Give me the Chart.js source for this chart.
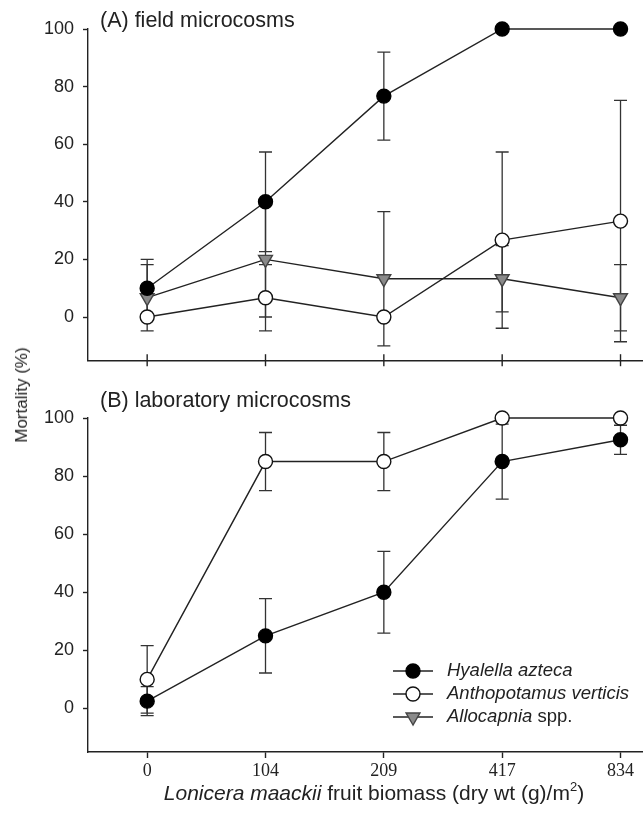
<!DOCTYPE html>
<html>
<head>
<meta charset="utf-8">
<script src="https://cdn.jsdelivr.net/npm/chart.js@4.4.1/dist/chart.umd.min.js"></script>
<style>
  body { margin: 0; background: #fff; }
  #wrap { position: relative; width: 643px; height: 822px; overflow: hidden;
          font-family: "Liberation Sans", Arial, sans-serif; color: #222; }
  canvas { position: absolute; left: 0; }
  #cA { top: 0; }
  #cB { top: 380px; }
  #ylab { position: absolute; left: 22px; top: 395px; font-size: 17px; white-space: nowrap;
          transform: translate(-50%, -50%) rotate(-90deg); }
  #xlab { position: absolute; left: 0; width: 748px; top: 782px; text-align: center;
          font-size: 21px; line-height: 21px; white-space: nowrap; }
  #xlab sup { font-size: 13px; vertical-align: 9px; line-height: 0; }
</style>
</head>
<body>
<div id="wrap">
  <canvas id="cA" width="643" height="380"></canvas>
  <canvas id="cB" width="643" height="442"></canvas>
  <div id="ylab">Mortality (%)</div>
  <div id="xlab"><i>Lonicera maackii</i> fruit biomass (dry wt (g)/m<sup>2</sup>)</div>
</div>
<script>
const biomass = ['0', '104', '209', '417', '834'];
const yTicks = [0, 20, 40, 60, 80, 100];
const species = ['Hyalella azteca', 'Anthopotamus verticis', 'Allocapnia spp.'];

// (A) field microcosms, mean and error
const fieldHyalella = [10, 40, 76.7, 100, 100];
const fieldHyalellaErr = [10, 17.3, 15.3, 0, 0];
const fieldAntho = [0, 6.7, 0, 26.7, 33.3];
const fieldAnthoErr = [0, 11.5, 0, 30.6, 41.9];
const fieldAllo = [6.7, 20, 13.3, 13.3, 6.7];
const fieldAlloErr = [11.5, 20, 23.3, 11.5, 11.5];

// (B) laboratory microcosms
const labHyalella = [2.5, 25, 40, 85, 92.5];
const labHyalellaErr = [5, 12.8, 14.1, 12.9, 5];
const labAntho = [10, 85, 85, 100, 100];
const labAnthoErr = [11.6, 10, 10, 0, 0];

const SANS = '"Liberation Sans", Arial, sans-serif';
const SERIF = '"Liberation Serif", "Times New Roman", serif';
const INK = '#222';

const styles = [
  { pointStyle: 'circle', radius: 7, rotation: 0, fill: '#000', stroke: '#000' },
  { pointStyle: 'circle', radius: 7, rotation: 0, fill: '#fff', stroke: '#111' },
  { pointStyle: 'triangle', radius: 8, rotation: 180, fill: '#8a8a8a', stroke: '#444' }
];

function makeDataset(k, vals, errs) {
  const s = styles[k];
  return {
    label: species[k],
    data: vals.map((v, i) => ({ x: i, y: v })),
    errors: errs,
    borderColor: INK,
    borderWidth: 1.4,
    pointStyle: s.pointStyle,
    pointRadius: s.radius,
    pointHoverRadius: s.radius,
    pointRotation: s.rotation,
    pointBackgroundColor: s.fill,
    pointBorderColor: s.stroke,
    pointBorderWidth: 1.4,
    tension: 0,
    clip: false
  };
}

// vertical error bars with caps, drawn under the markers
const errorBars = {
  id: 'errorBars',
  beforeDatasetsDraw(chart) {
    const ctx = chart.ctx, xs = chart.scales.x, ys = chart.scales.y;
    ctx.save();
    ctx.strokeStyle = '#333';
    ctx.lineWidth = 1.3;
    chart.data.datasets.forEach(ds => {
      ds.data.forEach((p, i) => {
        const e = ds.errors[i];
        if (!e) return;
        const x = xs.getPixelForValue(p.x);
        const lo = ys.getPixelForValue(p.y - e), hi = ys.getPixelForValue(p.y + e);
        ctx.beginPath();
        ctx.moveTo(x, lo); ctx.lineTo(x, hi);
        ctx.moveTo(x - 6.5, lo); ctx.lineTo(x + 6.5, lo);
        ctx.moveTo(x - 6.5, hi); ctx.lineTo(x + 6.5, hi);
        ctx.stroke();
      });
    });
    ctx.restore();
  }
};

const panelTitle = {
  id: 'panelTitle',
  afterDraw(chart, args, opts) {
    const ctx = chart.ctx;
    ctx.save();
    ctx.font = '21.5px ' + SANS;
    ctx.fillStyle = INK;
    ctx.textBaseline = 'alphabetic';
    ctx.fillText(opts.text, chart.chartArea.left + 12, chart.chartArea.top + opts.dy);
    ctx.restore();
  }
};

// top panel: tick marks cross the x axis line
const crossTicks = {
  id: 'crossTicks',
  afterDraw(chart, args, opts) {
    if (!opts.on) return;
    const ctx = chart.ctx, xs = chart.scales.x;
    ctx.save();
    ctx.strokeStyle = INK;
    ctx.lineWidth = 1.4;
    xs.ticks.forEach(t => {
      const x = xs.getPixelForValue(t.value);
      ctx.beginPath();
      ctx.moveTo(x, xs.top - 6);
      ctx.lineTo(x, xs.top + 6);
      ctx.stroke();
    });
    ctx.restore();
  }
};

function drawMarker(ctx, s, x, y) {
  ctx.beginPath();
  if (s.pointStyle === 'circle') {
    ctx.arc(x, y, s.radius, 0, Math.PI * 2);
  } else {
    const r = s.radius;
    ctx.moveTo(x, y + r);
    ctx.lineTo(x - r * 0.866, y - r / 2);
    ctx.lineTo(x + r * 0.866, y - r / 2);
    ctx.closePath();
  }
  ctx.fillStyle = s.fill;
  ctx.fill();
  ctx.strokeStyle = s.stroke;
  ctx.lineWidth = 1.4;
  ctx.stroke();
}

const legendBox = {
  id: 'legendBox',
  afterDraw(chart, args, opts) {
    if (!opts.on) return;
    const ctx = chart.ctx;
    ctx.save();
    species.forEach((name, k) => {
      const y = opts.top + k * 23;
      const x0 = opts.left;
      ctx.strokeStyle = INK;
      ctx.lineWidth = 1.4;
      ctx.beginPath();
      ctx.moveTo(x0, y);
      ctx.lineTo(x0 + 40, y);
      ctx.stroke();
      drawMarker(ctx, styles[k], x0 + 20, y);
      const ital = name.endsWith(' spp.') ? name.slice(0, -5) : name;
      const rest = name.slice(ital.length);
      ctx.fillStyle = INK;
      ctx.textBaseline = 'middle';
      ctx.font = 'italic 18.5px ' + SANS;
      ctx.fillText(ital, x0 + 54, y);
      const w = ctx.measureText(ital).width;
      ctx.font = '18.5px ' + SANS;
      ctx.fillText(rest, x0 + 54 + w, y);
    });
    ctx.restore();
  }
};

function makeScales(bottom) {
  return {
    x: {
      type: 'linear',
      min: -0.5,
      max: 4.19,
      afterBuildTicks: s => { s.ticks = biomass.map((_, i) => ({ value: i })); },
      afterFit: s => { s.height = bottom ? 70 : 19; },
      border: { color: INK, width: 1.4 },
      grid: { drawOnChartArea: false, drawTicks: bottom, tickLength: 6, tickColor: INK, tickWidth: 1.4 },
      ticks: {
        display: bottom,
        padding: 2,
        color: INK,
        font: { family: SERIF, size: 18 },
        callback: v => biomass[v]
      }
    },
    y: {
      min: -15,
      max: 100,
      afterBuildTicks: s => { s.ticks = yTicks.map(v => ({ value: v })); },
      afterFit: s => { s.width = 88; },
      border: { color: INK, width: 1.4 },
      grid: { drawOnChartArea: false, tickLength: 5, tickColor: INK, tickWidth: 1.4 },
      ticks: { padding: 9, color: INK, font: { family: SANS, size: 18 } }
    }
  };
}

new Chart(document.getElementById('cA'), {
  type: 'line',
  data: {
    datasets: [
      makeDataset(0, fieldHyalella, fieldHyalellaErr),
      makeDataset(1, fieldAntho, fieldAnthoErr),
      makeDataset(2, fieldAllo, fieldAlloErr)
    ]
  },
  options: {
    responsive: false,
    animation: false,
    layout: { autoPadding: false, padding: { top: 29, left: 0, right: 0, bottom: 0 } },
    scales: makeScales(false),
    plugins: {
      legend: { display: false },
      tooltip: { enabled: false },
      panelTitle: { text: '(A) field microcosms', dy: -2 },
      crossTicks: { on: true },
      legendBox: { on: false }
    }
  },
  plugins: [errorBars, panelTitle, crossTicks, legendBox]
});

new Chart(document.getElementById('cB'), {
  type: 'line',
  data: {
    datasets: [
      makeDataset(0, labHyalella, labHyalellaErr),
      makeDataset(1, labAntho, labAnthoErr)
    ]
  },
  options: {
    responsive: false,
    animation: false,
    layout: { autoPadding: false, padding: { top: 38, left: 0, right: 0, bottom: 0 } },
    scales: makeScales(true),
    plugins: {
      legend: { display: false },
      tooltip: { enabled: false },
      panelTitle: { text: '(B) laboratory microcosms', dy: -11 },
      crossTicks: { on: false },
      legendBox: { on: true, left: 393, top: 291 }
    }
  },
  plugins: [errorBars, panelTitle, crossTicks, legendBox]
});
</script>
</body>
</html>
